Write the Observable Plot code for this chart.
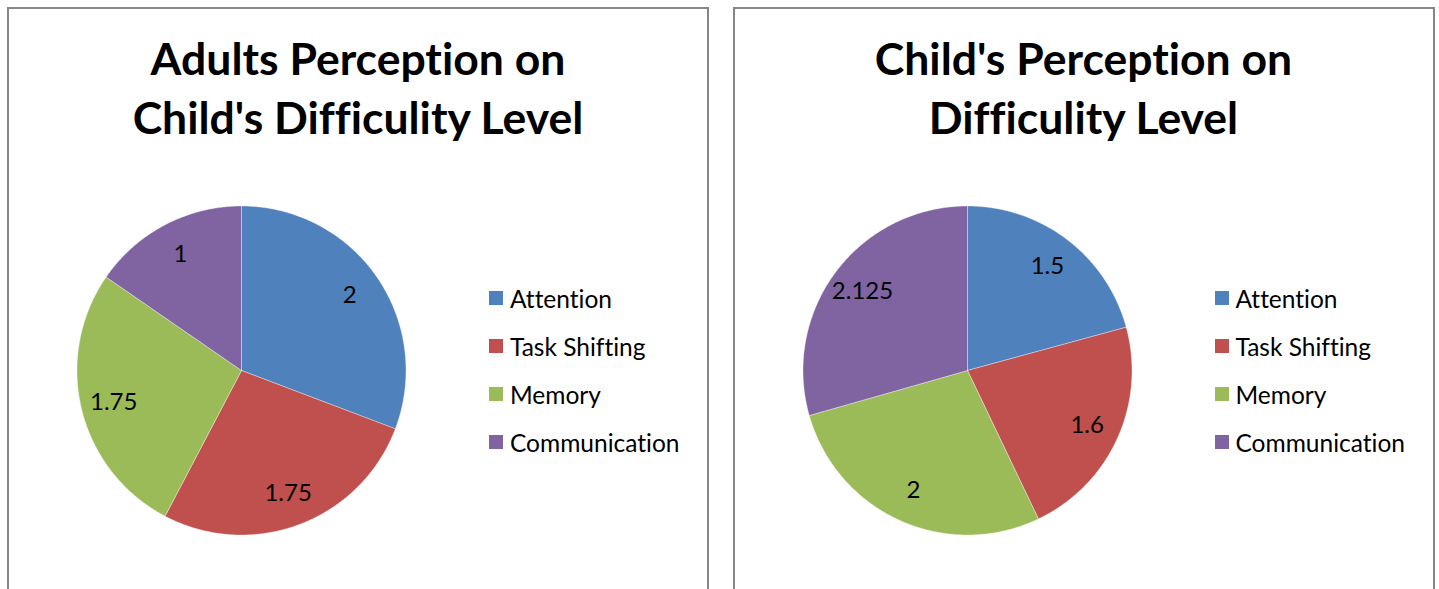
<!DOCTYPE html>
<html>
<head>
<meta charset="utf-8">
<script src="https://cdn.jsdelivr.net/npm/d3@7"></script>
<script src="https://cdn.jsdelivr.net/npm/@observablehq/plot@0.6"></script>
<style>
  html, body { margin: 0; padding: 0; background: #fff; width: 1439px; height: 589px; overflow: hidden; }
  body { position: relative; font-family: Lato, "Open Sans", sans-serif; color: #000; font-variant-ligatures: none; font-feature-settings: "liga" 0, "clig" 0; }
  .panel { position: absolute; top: 7px; width: 702px; height: 640px; box-sizing: border-box; border: 2px solid #868686; background: #fff; }
  .title { position: absolute; left: 0; top: 20px; width: 100%; text-align: center; font-weight: bold; font-size: 44.5px; line-height: 58.5px; white-space: nowrap; }
  .pie { position: absolute; left: 62px; top: 191px; }
  .pie svg text { font-variant-ligatures: none; }
  .legend { position: absolute; left: 480px; top: 265px; margin: 0; padding: 0; list-style: none; }
  .legend li { display: flex; align-items: center; height: 48px; font-size: 24.5px; white-space: nowrap; }
  .legend .sw { width: 14px; height: 14px; margin-right: 7px; flex: none; }
</style>
</head>
<body>
<script>
// ---- data ----
const categories = ["Attention", "Task Shifting", "Memory", "Communication"];
const adultValues = [2, 1.75, 1.75, 1];
const childValues = [1.5, 1.6, 2, 2.125];
const colors = ["#4F81BD", "#C0504D", "#9BBB59", "#8064A2"];
const adultTitle = ["Adults Perception on", "Child's Difficulity Level"];
const childTitle = ["Child's Perception on", "Difficulity Level"];

const D = 170 / 164.5;

function pieChart(values) {
  const arcs = d3.pie().sort(null)(values);
  const pts = [];
  const labels = [];
  arcs.forEach((a, i) => {
    const cat = categories[i];
    const n = Math.max(2, Math.ceil((a.endAngle - a.startAngle) / (Math.PI / 360)));
    pts.push({cat, x: 0, y: 0});
    for (let k = 0; k <= n; k++) {
      const t = a.startAngle + (a.endAngle - a.startAngle) * k / n;
      pts.push({cat, x: Math.sin(t), y: Math.cos(t)});
    }
    pts.push({cat, x: 0, y: 0});
    const m = (a.startAngle + a.endAngle) / 2;
    labels.push({cat, value: values[i], x: 0.8 * Math.sin(m), y: 0.8 * Math.cos(m)});
  });
  return Plot.plot({
    width: 340,
    height: 340,
    margin: 0,
    style: {background: "transparent", overflow: "visible"},
    x: {domain: [-D, D], axis: null},
    y: {domain: [-D, D], axis: null},
    color: {domain: categories, range: colors},
    marks: [
      Plot.line(pts, {x: "x", y: "y", z: "cat", fill: "cat", stroke: "white", strokeWidth: 0.6, strokeOpacity: 0.6}),
      Plot.text(labels, {x: "x", y: "y", text: d => String(d.value), fill: "black", fontSize: 24, fontFamily: "Lato, sans-serif"})
    ]
  });
}

function panel(left, titleLines, values) {
  const p = document.createElement("div");
  p.className = "panel";
  p.style.left = left + "px";
  const t = document.createElement("div");
  t.className = "title";
  t.innerHTML = titleLines.map(s => s.replace(/&/g, "&amp;")).join("<br>");
  p.appendChild(t);
  const chart = pieChart(values);
  const holder = document.createElement("div");
  holder.className = "pie";
  holder.appendChild(chart);
  p.appendChild(holder);
  const ul = document.createElement("ul");
  ul.className = "legend";
  categories.forEach((c, i) => {
    const li = document.createElement("li");
    const sw = document.createElement("span");
    sw.className = "sw";
    sw.style.background = colors[i];
    li.appendChild(sw);
    li.appendChild(document.createTextNode(c));
    ul.appendChild(li);
  });
  p.appendChild(ul);
  document.body.appendChild(p);
}

panel(7, adultTitle, adultValues);
panel(732.5, childTitle, childValues);
</script>
</body>
</html>
